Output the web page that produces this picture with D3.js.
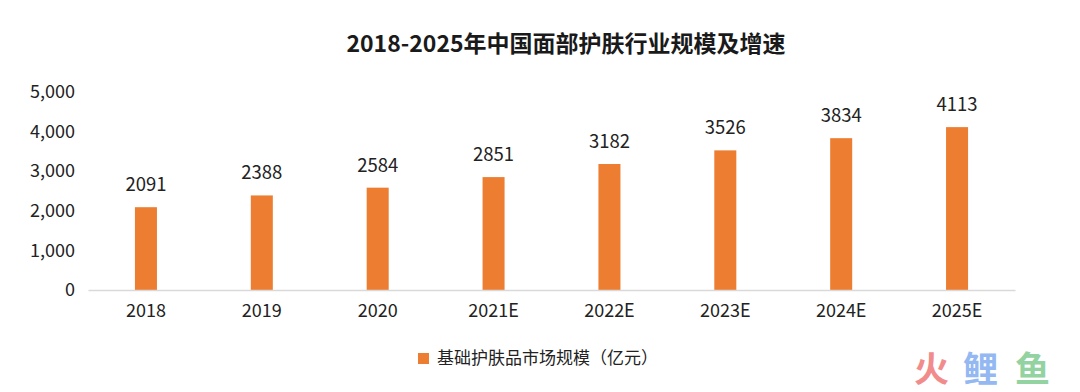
<!DOCTYPE html>
<html>
<head>
<meta charset="utf-8">
<script src="https://cdn.jsdelivr.net/npm/d3@7"></script>
<style>
  body { margin: 0; background: #fff; }
  text { font-family: "Noto Sans CJK SC", "Open Sans", sans-serif; }
</style>
</head>
<body>
<svg id="chart" width="1080" height="392"></svg>
<script>
// data
var years = ["2018", "2019", "2020", "2021E", "2022E", "2023E", "2024E", "2025E"];
var marketSize = [2091, 2388, 2584, 2851, 3182, 3526, 3834, 4113];
var yTicks = [0, 1000, 2000, 3000, 4000, 5000];
var seriesName = "基础护肤品市场规模（亿元）";
var titleText = "2018-2025年中国面部护肤行业规模及增速";

var svg = d3.select("#chart"),
margin = {top: 92, right: 65, bottom: 102, left: 88},
width = 1080 - margin.left - margin.right,
height = 392 - margin.top - margin.bottom;

var x = d3.scaleBand().domain(years).range([0, width]).paddingInner(0.81).paddingOuter(0.405),
y = d3.scaleLinear().domain([0, 5000]).range([height, 0]);

var g = svg.append("g")
.attr("transform", "translate(" + margin.left + "," + margin.top + ")");

// title
svg.append("text")
.attr("x", 566)
.attr("y", 52)
.attr("text-anchor", "middle")
.attr("font-size", "23px")
.attr("font-weight", "bold")
.attr("fill", "#1a1a1a")
.text(titleText);

// y axis (labels only)
var yAxis = d3.axisLeft(y).tickValues(yTicks).tickSize(0).tickPadding(13).tickFormat(d3.format(","));
g.append("g")
.attr("class", "y axis")
.call(yAxis)
.call(function(a) { a.select(".domain").remove(); })
.selectAll("text")
.attr("font-size", "18px")
.attr("fill", "#222");

// bars
g.selectAll(".bar")
.data(marketSize)
.enter().append("rect")
.attr("class", "bar")
.attr("x", function(d, i) { return x(years[i]); })
.attr("width", x.bandwidth())
.attr("y", function(d) { return y(d); })
.attr("height", function(d) { return height - y(d); })
.attr("fill", "#ED7D31");

// value labels
g.selectAll(".val")
.data(marketSize)
.enter().append("text")
.attr("class", "val")
.attr("x", function(d, i) { return x(years[i]) + x.bandwidth() / 2; })
.attr("y", function(d) { return y(d) - 16; })
.attr("text-anchor", "middle")
.attr("font-size", "18.5px")
.attr("fill", "#222")
.text(function(d) { return d; });

// x axis
var xAxis = d3.axisBottom(x).tickSize(0).tickPadding(14);
var xg = g.append("g")
.attr("class", "x axis")
.attr("transform", "translate(0," + height + ")")
.call(xAxis);
xg.select(".domain").attr("stroke", "#d9d9d9").attr("stroke-width", 1.3);
xg.selectAll("text").attr("font-size", "18px").attr("fill", "#222");

// legend
var legend = svg.append("g").attr("transform", "translate(418,353)");
legend.append("rect")
.attr("width", 11)
.attr("height", 11)
.attr("fill", "#ED7D31");
legend.append("text")
.attr("x", 19)
.attr("y", 11)
.attr("font-size", "17px")
.attr("fill", "#222")
.text(seriesName);

// watermark
var wm = svg.append("g").attr("font-size", "35px").attr("font-weight", "bold");
wm.append("text").attr("x", 914).attr("y", 382).attr("fill", "#f28b8b").text("火");
wm.append("text").attr("x", 963).attr("y", 382).attr("fill", "#93b8f2").text("鲤");
wm.append("text").attr("x", 1015).attr("y", 382).attr("fill", "#93d3a2").text("鱼");
</script>
</body>
</html>
